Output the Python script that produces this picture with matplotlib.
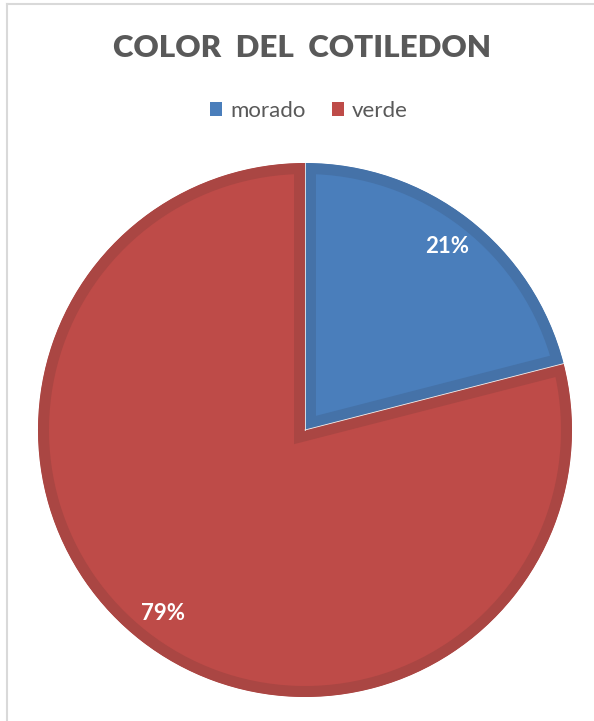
import numpy as np
import matplotlib.pyplot as plt
from matplotlib.patches import Patch, Wedge

# cotyledon colour counts (percent)
categories = ['morado', 'verde']
values = [21, 79]
fill_colors = ['#4a7ebb', '#be4b48']
edge_colors = ['#4572a8', '#aa4643']

W, H = 594, 721
plt.rcParams['font.family'] = ['Lato', 'DejaVu Sans']

fig = plt.figure(figsize=(W / 100, H / 100), dpi=100)
ax = fig.add_axes([0, 0, 1, 1])

# pie centre and radius in pixel units
cx, cy, r = 305, H - 430, 267

wedges, texts, autotexts = ax.pie(
    values, colors=fill_colors, startangle=90, counterclock=False,
    center=(cx, cy), radius=r, autopct='%1.0f%%', pctdistance=0.87,
    textprops=dict(color='white', fontsize=16, fontweight='bold'))

ax.set_xlim(0, W)
ax.set_ylim(0, H)
ax.set_aspect('equal')
ax.axis('off')

# darker band along the inside of each slice: wide stroke clipped to the slice
for w, ec in zip(wedges, edge_colors):
    w.set_edgecolor(ec)
    w.set_linewidth(22 * 0.72)
    w.set_joinstyle('miter')
    clip = Wedge(w.center, w.r, w.theta1, w.theta2, transform=ax.transData)
    w.set_clip_path(clip)
    w.set_clip_on(True)
    w.set_zorder(1)
for t in autotexts:
    t.set_zorder(5)

# thin light seam along the slice boundaries
for w in wedges:
    a = np.deg2rad(w.theta1)
    ax.plot([cx, cx + r * np.cos(a)], [cy, cy + r * np.sin(a)],
            color='#eeeeee', linewidth=0.6, zorder=2)

# chart frame (top and left edges visible)
ax.plot([7, W], [H - 4, H - 4], color='#d9d9d9', linewidth=1.5, zorder=0, clip_on=False)
ax.plot([7, 7], [0, H - 4], color='#d9d9d9', linewidth=1.5, zorder=0, clip_on=False)

ax.text(302, H - 48, 'COLOR  DEL  COTILEDON', ha='center', va='center',
        fontsize=22.5, fontweight='heavy', color='#595959')

handles = [Patch(facecolor=c, edgecolor='none') for c in fill_colors]
fig.legend(handles, categories, loc='center', bbox_to_anchor=(309 / W, 1 - 111 / H),
           ncol=2, frameon=False, fontsize=16, labelcolor='#595959',
           handlelength=0.55, handleheight=0.55, handletextpad=0.35, columnspacing=1.2)

fig.savefig('out.png', dpi=100)
